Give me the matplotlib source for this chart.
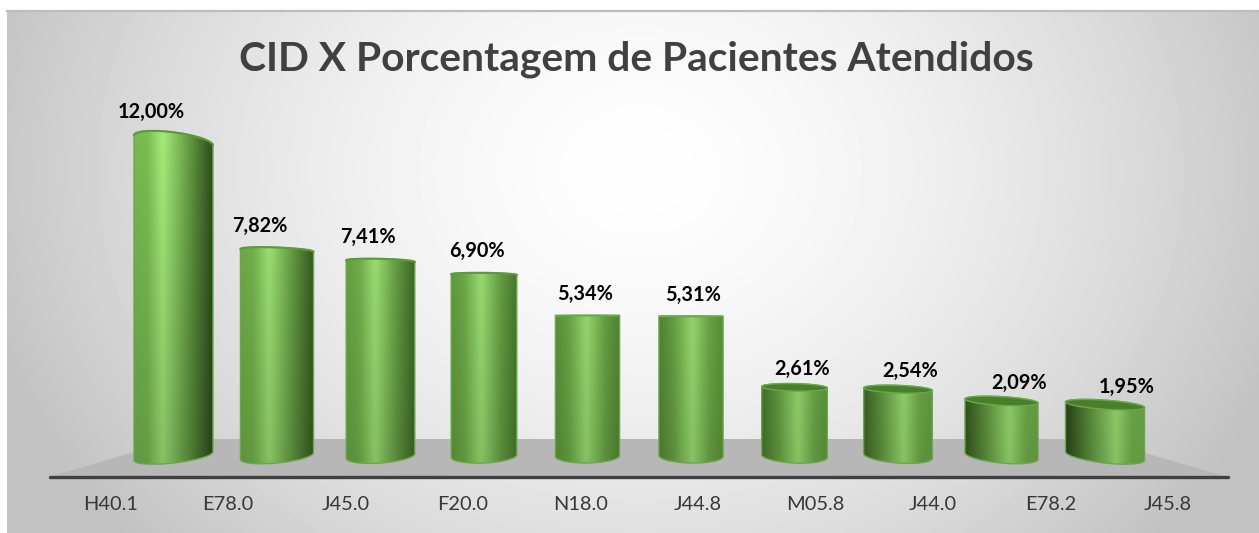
#!/usr/bin/env python
# -*- coding: utf-8 -*-

import matplotlib
matplotlib.use('Agg')
import matplotlib.pyplot as plt
import numpy as np
from matplotlib.colors import to_rgb
from matplotlib.patches import PathPatch, Polygon
from matplotlib.path import Path

plt.rcParams['font.family'] = ['Lato', 'DejaVu Sans']

# data
categories = ['H40.1', 'E78.0', 'J45.0', 'F20.0', 'N18.0',
              'J44.8', 'M05.8', 'J44.0', 'E78.2', 'J45.8']
values = [12.00, 7.82, 7.41, 6.90, 5.34, 5.31, 2.61, 2.54, 2.09, 1.95]
value_labels = ['12,00%', '7,82%', '7,41%', '6,90%', '5,34%',
                '5,31%', '2,61%', '2,54%', '2,09%', '1,95%']
title = 'CID X Porcentagem de Pacientes Atendidos'

# scale of the value axis on the canvas
W, H = 1259, 533
PX_X = 103.5    # pixels per category
PX_Y = 26.3     # pixels per percent
X0, Y0 = 173.5, 456

# fake perspective of the 3d chart
EYE = 5.55      # value at eye level
MID = (len(values) - 1) / 2
TILT = 0.013
FLAT = 0.048


def to_x(px):
    return (px - X0) / PX_X


def to_y(py):
    return (Y0 - py) / PX_Y


def half_width(i):
    off = i - MID
    return (64 + 0.74 * off ** 2) / 2 / PX_X


def arc(i, v, lower=False, n=50):
    """ skewed half ellipse of the cylinder at height v, left to right """
    off = i - MID
    theta = np.linspace(np.pi, 0, n)
    b = FLAT * abs(v - EYE)
    s = TILT * off * (v - EYE)
    sign = -1 if lower else 1
    return (i + half_width(i) * np.cos(theta),
            v + s / 2 * np.cos(theta) + sign * b * np.sin(theta))


def bar_image(i, ymin, ymax):
    off = i - MID
    t = off / MID
    peak = 0.5 + 0.03 * off
    dark = np.array(to_rgb('#2c4a1a'))
    flat = np.array(to_rgb('#5a9438'))
    lite = np.array(to_rgb('#74b44e'))
    if t > 0:
        left = flat + (dark - flat) * t
        right = flat + (lite - flat) * t
    else:
        left = flat + (lite - flat) * -t
        right = flat + (dark - flat) * -t
    high = np.array(to_rgb('#a0e676'))
    mid = np.array(to_rgb('#78b850'))
    stops = [0, peak * 0.45, peak, peak + (1 - peak) * 0.55, 1]
    cols = np.array([left, (left + 2 * mid) / 3, high, (right + 2 * mid) / 3, right])
    u = np.linspace(0, 1, 200)
    row = np.stack([np.interp(u, stops, cols[:, k]) for k in range(3)], axis=1)
    # soften the kinks at the stops
    kernel = np.ones(13) / 13
    pad = np.pad(row, ((6, 6), (0, 0)), mode='edge')
    row = np.stack([np.convolve(pad[:, k], kernel, mode='valid') for k in range(3)], axis=1)
    ys = np.linspace(ymax, ymin, 200)
    fac = 0.85 + 0.0145 * ys
    return np.clip(row[None, :, :] * fac[:, None, None], 0, 1)


fig = plt.figure(figsize=(W / 100, H / 100), dpi=100, facecolor='white')
ax = fig.add_axes([0, 0, 1, 1])
ax.axis('off')

# background
xx, yy = np.meshgrid(np.arange(7, W), np.arange(10, H))
rr = np.sqrt(((xx - 640) / 680) ** 2 + ((yy - 170) / 560) ** 2)
shade = 0xfe - 60 * np.clip(rr, 0, 1) ** 1.6
ax.imshow(shade / 255, cmap='gray', vmin=0, vmax=1, aspect='auto', zorder=0,
          extent=(to_x(7), to_x(W), to_y(H), to_y(10)))
ax.plot([to_x(7), to_x(W)], [to_y(10.5)] * 2, color='#bdbdbd', lw=1.6, zorder=1)

# floor and axis line
ax.add_patch(Polygon([(to_x(50), to_y(477)), (to_x(178), to_y(439)),
                      (to_x(1097), to_y(439)), (to_x(1228), to_y(477))],
                     closed=True, fc='#b7b7b7', ec='none', zorder=1))
ax.plot([to_x(50), to_x(1228)], [to_y(477)] * 2, color='#404040', lw=2.4,
        solid_capstyle='round', zorder=2)

# cylinders
for i, v in enumerate(values):
    tx, ty = arc(i, v)
    bx, by = arc(i, 0, lower=True)
    px = np.r_[tx, bx[::-1]]
    py = np.r_[ty, by[::-1]]
    verts = np.c_[px, py]
    body = Path(np.r_[verts, verts[:1]], closed=True)

    hw = half_width(i)
    ymin, ymax = py.min(), py.max()
    im = ax.imshow(bar_image(i, ymin, ymax), aspect='auto', zorder=3,
                   extent=(i - hw, i + hw, ymin, ymax), interpolation='bilinear')
    im.set_clip_path(PathPatch(body, transform=ax.transData))
    ax.add_patch(PathPatch(body, fc='none', ec='#6aa84a', lw=1.0, zorder=4))

    if v < EYE:
        lx, ly = arc(i, v, lower=True)
        top = np.c_[np.r_[tx, lx[::-1]], np.r_[ty, ly[::-1]]]
        ax.add_patch(Polygon(top, closed=True, fc='#477f2a', ec='#6aa84a',
                             lw=1.0, zorder=5))
    else:
        ax.plot(tx, ty, color='#5f9a3a', lw=1.5, zorder=5)

    # value label follows the perspective of the bar
    ax.text(i + 4.9 * (i - MID) / PX_X, v + (15.5 + 1.1 * v) / PX_Y,
            value_labels[i], ha='center', va='center', fontsize=14.3,
            fontweight='bold', color='black', zorder=6)

    # category labels sit along the front of the floor
    ax.text(MID + (i - MID) * 117.5 / PX_X, to_y(505), categories[i],
            ha='center', va='center', fontsize=14.4, color='#383838', zorder=6)

ax.text(to_x(636), to_y(59), title, ha='center', va='center', fontsize=29.3,
        fontweight='bold', color='#404040', zorder=6)

ax.set_xlim(to_x(0), to_x(W))
ax.set_ylim(to_y(H), to_y(0))

fig.savefig('out.png', dpi=100, facecolor='white')
